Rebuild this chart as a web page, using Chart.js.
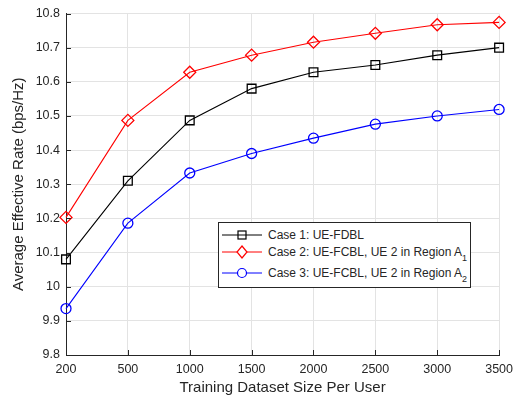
<!DOCTYPE html>
<html>
<head>
<meta charset="utf-8">
<script src="https://cdn.jsdelivr.net/npm/chart.js@4/dist/chart.umd.min.js"></script>
<style>
  html, body { margin: 0; padding: 0; background: #fff; }
  #wrap { position: relative; width: 520px; height: 401px; }
  #legend {
    position: absolute; left: 218px; top: 222px; width: 251px; height: 64px;
    border: 1px solid #262626; background: #fff;
    font-family: "Liberation Sans", Arial, sans-serif; font-size: 12px; color: #262626;
  }
  .row { position: absolute; left: 3px; height: 16px; display: flex; align-items: center; }
  .row svg { margin-right: 4px; }
  sub { font-size: 9px; vertical-align: -5px; line-height: 0; }
</style>
</head>
<body>
<div id="wrap">
  <canvas id="rateChart" width="520" height="401"></canvas>
  <div id="legend">
    <div class="row" style="top:4px">
      <svg width="42" height="16"><line x1="0" y1="8" x2="40" y2="8" stroke="#000" stroke-width="1"/><rect x="16" y="4" width="8" height="8" fill="none" stroke="#000" stroke-width="1.2"/></svg>
      <span>Case 1: UE-FDBL</span>
    </div>
    <div class="row" style="top:21px">
      <svg width="42" height="16"><line x1="0" y1="8" x2="40" y2="8" stroke="#ff0000" stroke-width="1"/><polygon points="20,2 25,8 20,14 15,8" fill="#fff" stroke="#ff0000" stroke-width="1.2"/></svg>
      <span>Case 2: UE-FCBL, UE 2 in Region A<sub>1</sub></span>
    </div>
    <div class="row" style="top:42px">
      <svg width="42" height="16"><line x1="0" y1="8" x2="40" y2="8" stroke="#0000ff" stroke-width="1"/><circle cx="20" cy="8" r="4.5" fill="#fff" stroke="#0000ff" stroke-width="1.2"/></svg>
      <span>Case 3: UE-FCBL, UE 2 in Region A<sub>2</sub></span>
    </div>
  </div>
</div>
<script>
const datasetSizes = ['200', '500', '1000', '1500', '2000', '2500', '3000', '3500'];
const case1 = [10.08, 10.31, 10.487, 10.58, 10.628, 10.649, 10.678, 10.70];
const case2 = [10.203, 10.487, 10.628, 10.678, 10.716, 10.742, 10.767, 10.774];
const case3 = [9.936, 10.186, 10.333, 10.39, 10.435, 10.476, 10.500, 10.519];
const yTicks = [9.8, 9.9, 10, 10.1, 10.2, 10.3, 10.4, 10.5, 10.6, 10.7, 10.8];

const FONT = '"Liberation Sans", Arial, sans-serif';
const AXIS_COLOR = '#262626';

// MATLAB style ticks pointing into the plot
const inwardTicks = {
    id: 'inwardTicks',
    afterDatasetsDraw(chart) {
        const { ctx, chartArea, scales } = chart;
        ctx.save();
        ctx.strokeStyle = AXIS_COLOR;
        ctx.lineWidth = 1;
        ctx.beginPath();
        scales.x.ticks.forEach((t, i) => {
            const x = Math.round(scales.x.getPixelForTick(i)) + 0.5;
            ctx.moveTo(x, chartArea.bottom);
            ctx.lineTo(x, chartArea.bottom - 5);
        });
        scales.y.ticks.forEach((t, i) => {
            const y = Math.round(scales.y.getPixelForTick(i)) + 0.5;
            ctx.moveTo(chartArea.left, y);
            ctx.lineTo(chartArea.left + 5, y);
        });
        ctx.stroke();
        ctx.restore();
    }
};

const lineSet = (label, values, color, style, radius) => ({
    label: label,
    data: values,
    borderColor: color,
    backgroundColor: color,
    borderWidth: 1.1,
    pointStyle: style,
    pointRadius: radius,
    pointBorderWidth: 1.3,
    pointBackgroundColor: 'rgba(0,0,0,0)',
    pointBorderColor: color,
    tension: 0,
    fill: false
});

const config = {
    type: 'line',
    data: {
        labels: datasetSizes,
        datasets: [
            lineSet('Case 1: UE-FDBL', case1, '#000000', 'rect', 6.2),
            lineSet('Case 2: UE-FCBL, UE 2 in Region A1', case2, '#ff0000', 'rectRot', 6),
            lineSet('Case 3: UE-FCBL, UE 2 in Region A2', case3, '#0000ff', 'circle', 5)
        ]
    },
    options: {
        responsive: false,
        animation: false,
        layout: { padding: { top: 13, right: 19, left: 0, bottom: 0 } },
        plugins: {
            legend: { display: false },
            tooltip: { enabled: false }
        },
        scales: {
            x: {
                type: 'category',
                offset: false,
                grid: { color: '#e3e3e3', drawTicks: false },
                border: { color: AXIS_COLOR, width: 1 },
                ticks: { color: AXIS_COLOR, font: { family: FONT, size: 12.5 }, padding: 7, maxRotation: 0 },
                title: {
                    display: true, text: 'Training Dataset Size Per User',
                    color: AXIS_COLOR, font: { family: FONT, size: 15 }, padding: { top: 0, bottom: 4 }
                },
                afterFit(scale) { scale.height = 46; }
            },
            y: {
                min: 9.8,
                max: 10.8,
                afterBuildTicks(scale) { scale.ticks = yTicks.map(v => ({ value: v })); },
                grid: { color: '#e3e3e3', drawTicks: false },
                border: { color: AXIS_COLOR, width: 1 },
                ticks: {
                    color: AXIS_COLOR, font: { family: FONT, size: 12.5 }, padding: 6,
                    callback: v => String(Number(v.toFixed(1)))
                },
                title: {
                    display: true, text: 'Average Effective Rate (bps/Hz)',
                    color: AXIS_COLOR, font: { family: FONT, size: 15 }, padding: { top: 10, bottom: 0 }
                },
                afterFit(scale) { scale.width = 66; }
            }
        }
    },
    plugins: [inwardTicks]
};

const ctx = document.getElementById('rateChart').getContext('2d');
const rateChart = new Chart(ctx, config);
</script>
</body>
</html>
